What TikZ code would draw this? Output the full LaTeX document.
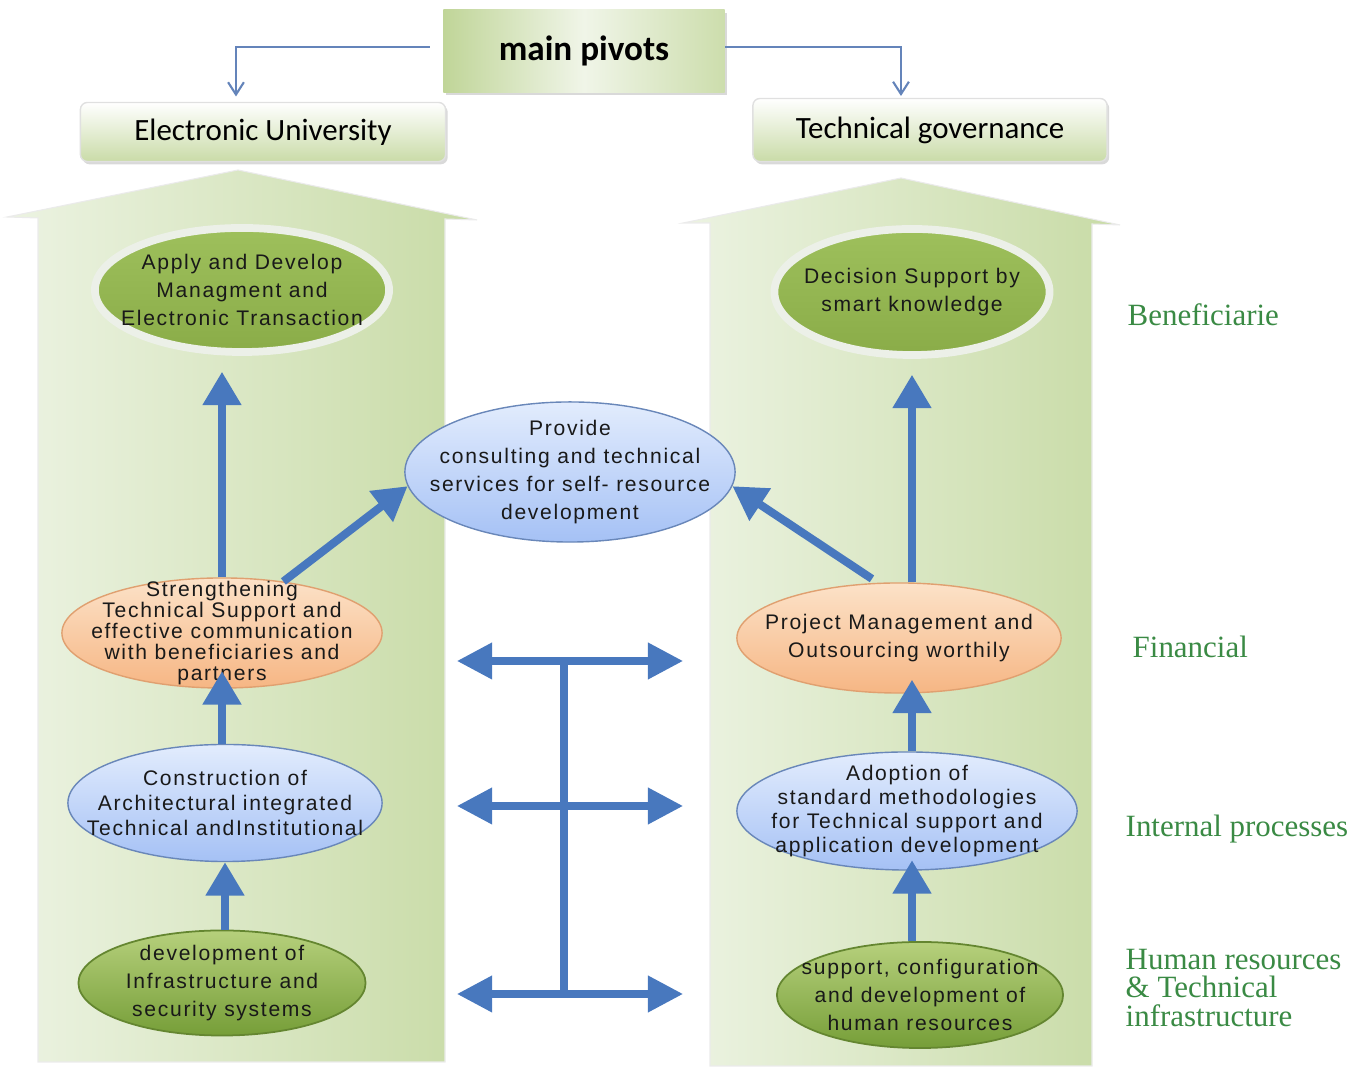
\documentclass[tikz,border=0pt]{standalone}
\usepackage{fontspec}
\newfontfamily\ovalfont[LetterSpace=8]{Liberation Sans}
\newfontfamily\headfont{Carlito}
\newfontfamily\layerfont{Liberation Serif}
\usetikzlibrary{shapes.geometric, arrows.meta, positioning, shadows}

\definecolor{arrowblue}{RGB}{72,120,190}
\definecolor{lineblue}{RGB}{100,132,186}
\definecolor{layergreen}{RGB}{58,138,68}
\definecolor{housepale}{RGB}{236,243,226}
\definecolor{housedark}{RGB}{200,219,166}
\definecolor{boxgreen}{RGB}{192,213,152}
\definecolor{boxpale}{RGB}{240,245,232}
\definecolor{goaltop}{RGB}{158,192,92}
\definecolor{goalbot}{RGB}{138,172,72}
\definecolor{ringwhite}{RGB}{236,240,232}
\definecolor{fintop}{RGB}{252,226,200}
\definecolor{finbot}{RGB}{246,182,132}
\definecolor{finedge}{RGB}{224,160,112}
\definecolor{proctop}{RGB}{226,236,253}
\definecolor{procbot}{RGB}{165,193,245}
\definecolor{procedge}{RGB}{105,135,185}
\definecolor{basetop}{RGB}{182,208,124}
\definecolor{basebot}{RGB}{118,158,56}

\begin{document}
\begin{tikzpicture}[
    x=0.01cm, y=-0.01cm,
    house/.style = {left color=housepale, right color=housedark, draw=black!8, line width=0.3pt},
    pivotbox/.style = {minimum width=2.81cm, minimum height=0.82cm, left color=boxgreen, right color=boxgreen!80!white, middle color=boxpale,
      drop shadow={shadow xshift=0.8pt, shadow yshift=-0.8pt, opacity=0.3}, font=\headfont\bfseries\fontsize{10}{12}\selectfont},
    headbox/.style = {rounded corners=0.07cm, minimum height=0.59cm, top color=white, bottom color=boxgreen!85!white, draw=black!12,
      drop shadow={shadow xshift=0.6pt, shadow yshift=-0.8pt, opacity=0.3}, font=\headfont\fontsize{8.8}{10}\selectfont},
    oval/.style = {ellipse, inner sep=-1cm, align=center, text=black!90, font=\ovalfont\fontsize{6}{8}\selectfont},
    goal/.style = {oval, draw=ringwhite, line width=2.2pt, top color=goaltop, bottom color=goalbot},
    finance/.style = {oval, draw=finedge, line width=0.4pt, top color=fintop, bottom color=finbot},
    process/.style = {oval, draw=procedge, line width=0.4pt, top color=proctop, bottom color=procbot},
    base/.style = {oval, draw=basebot!85!black, line width=0.5pt, top color=basetop, bottom color=basebot},
    layer/.style = {anchor=west, align=left, inner sep=0pt, text=layergreen, font=\layerfont\fontsize{8.8}{8}\selectfont},
    uparrow/.style = {draw=arrowblue, line width=2.3pt, -{Triangle[length=9.5pt, width=10.5pt]}},
    linkarrow/.style = {draw=arrowblue, line width=2pt, {Triangle[length=10pt, width=10pt]}-{Triangle[length=10pt, width=10pt]}},
    thinarrow/.style = {draw=lineblue, line width=0.6pt, -{Straight Barb[length=3.5pt, width=4.5pt]}}
  ]
  \useasboundingbox (0,0) rectangle (1363,1068);

  % the two big up arrows
  \path[house] (38,1062) -- (445,1062) -- (445,219) -- (477,220) -- (238,170) -- (7,217) -- (38,218) -- cycle;
  \path[house] (710,1066) -- (1092,1066) -- (1092,224) -- (1120,225) -- (901,178) -- (683,223) -- (710,223) -- cycle;

  % header
  \node[pivotbox] (pivots) at (584,51) {main pivots};
  \node[headbox, minimum width=3.65cm] (univ) at (263,132) {Electronic University};
  \node[headbox, minimum width=3.54cm, minimum height=0.63cm] (gov) at (930,130) {Technical governance};

  \draw[thinarrow, shorten >=1.5pt] ([xshift=-0.13cm, yshift=0.04cm]pivots.west) -| ([xshift=-0.27cm]univ.north);
  \draw[thinarrow, shorten >=0.5pt] ([yshift=0.04cm]pivots.east) -| ([xshift=-0.29cm]gov.north);

  % left column
  \node[goal, minimum width=2.94cm, minimum height=1.24cm] (apply) at (242,290) {Apply and Develop\\ Managment and\\Electronic Transaction};
  \node[finance, minimum width=3.2cm, minimum height=1.1cm, font=\ovalfont\fontsize{6}{6}\selectfont] (strength) at (222,633)
    {Strengthening\\ Technical Support and\\effective communication\\ with beneficiaries and\\partners};
  \node[process, minimum width=3.14cm, minimum height=1.17cm, font=\ovalfont\fontsize{6}{7}\selectfont] (construct) at (225,803)
    {Construction of\\Architectural integrated\\Technical andInstitutional};
  \node[base, minimum width=2.87cm, minimum height=1.05cm] (develop) at (222,983) {development of\\Infrastructure and\\security systems};

  % right column
  \node[goal, minimum width=2.75cm, minimum height=1.26cm] (decision) at (912,292) {Decision Support by\\smart knowledge};
  \node[finance, minimum width=3.24cm, minimum height=1.1cm] (project) at (899,638) {Project Management and\\Outsourcing worthily};
  \node[process, minimum width=3.4cm, minimum height=1.18cm, font=\ovalfont\fontsize{6}{6.8}\selectfont] (adopt) at (907,811)
    {Adoption of\\standard methodologies\\for Technical support and\\application development};
  \node[base, minimum width=2.86cm, minimum height=1.06cm] (support) at (920,995) {support, configuration\\and development of\\human resources};

  % shared service
  \node[process, minimum width=3.3cm, minimum height=1.4cm] (provide) at (570,472)
    {Provide\\consulting and technical\\services for self- resource\\development};

  % links
  \draw[uparrow, shorten >=4.5pt] (strength.north) -- (strength.north |- apply.south);
  \draw[uparrow] (strength.40) -- (provide.185);
  \draw[uparrow, shorten >=-5pt] (construct.north -| strength.south) -- (strength.south);
  \draw[uparrow] (develop.north -| construct.south) -- (construct.south);

  \draw[uparrow, shorten >=4.5pt] (project.north -| decision.south) -- (decision.south);
  \draw[uparrow, shorten <=2pt] (project.111) -- (provide.-5);
  \draw[uparrow, shorten >=-4pt] (adopt.north -| decision.south) -- (project.south -| decision.south);
  \draw[uparrow, shorten >=-3pt] (support.north -| decision.south) -- (adopt.south -| decision.south);

  \foreach \y/\n in {661/fin, 806/int, 994/hum} {
    \coordinate (\n-l) at (457,\y);
    \coordinate (\n-r) at (683,\y);
    \coordinate (\n-m) at (564,\y);
    \draw[linkarrow] (\n-l) -- (\n-r);
  }
  \draw[draw=arrowblue, line width=2pt] (fin-m) -- (hum-m);

  % perspectives
  \node[layer] (benef) at (1127,315) {Beneficiarie};
  \node[layer] (financial) at (1132,647) {Financial};
  \node[layer] (internal) at (1125,829) {Internal processes};
  \node[layer] (human) at (1125,988) {Human resources\\\& Technical\\infrastructure};
\end{tikzpicture}
\end{document}
